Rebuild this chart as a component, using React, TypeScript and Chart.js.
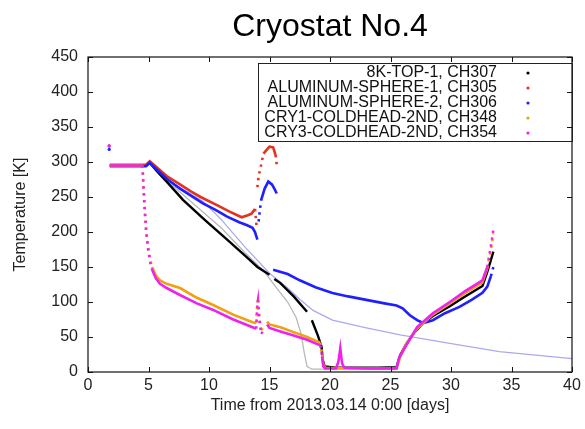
import React, { useEffect, useRef } from "react";
import { Chart, registerables } from "chart.js";

Chart.register(...registerables);

const TITLE = "Cryostat No.4";
const X_TITLE = "Time from 2013.03.14 0:00 [days]";
const Y_TITLE = "Temperature [K]";
const X_TICKS = [0, 5, 10, 15, 20, 25, 30, 35, 40];
const Y_TICKS = [0, 50, 100, 150, 200, 250, 300, 350, 400, 450];

const LEGEND_LABELS = [
  "8K-TOP-1, CH307",
  "ALUMINUM-SPHERE-1, CH305",
  "ALUMINUM-SPHERE-2, CH306",
  "CRY1-COLDHEAD-2ND, CH348",
  "CRY3-COLDHEAD-2ND, CH354",
];

// 8K-TOP-1, CH307
const BLACK_DAYS = [1.8, 4.8, 5.1, 5.7, 6.5, 7.85, 9.67, 11.5, 13, 14, 15, null, 15.4, 15.9, 17, 18.1, null, 18.5, 19, 19.3, 19.4, 19.55, 20.5, 22, 24, 25.5, 25.8, 26.3, 27, 27.7, 28.5, 29.9, 31, 32.6, 33, 33.3, 33.5];
const BLACK_TEMPS = [295, 295, 299, 287, 272, 246, 217, 189, 166, 150, 139, null, 133, 127, 108, 86, null, 74, 52, 36, 17, 8, 6, 6, 6, 7, 24, 40, 57, 70, 80, 94, 106, 123, 143, 160, 172];

// ALUMINUM-SPHERE-1, CH305
const RED_DAYS = [1.75, null, 1.8, 4.8, 5.1, 5.7, 6.5, 7.6, 8.5, 9.3, 10.7, 11.7, 12.7, 13.2, 13.5, 13.8, 13.95, null, 14.0, 14.1, 14.3, 14.5, 14.8, 15.0, 15.3, 15.5, 15.6];
const RED_TEMPS = [323, null, 296, 296, 301, 292, 280, 268, 258, 250, 238, 229, 221, 224, 226, 233, 205, null, 264, 280, 295, 312, 318, 322, 321, 310, 296];

// ALUMINUM-SPHERE-2, CH306
const BLUE_DAYS = [1.75, null, 1.8, 4.8, 5.1, 5.7, 6.5, 7.6, 8.5, 9.5, 10.5, 11.5, 12.5, 13.1, 13.6, 13.8, 14.0, null, 14.1, 14.3, 14.6, 14.9, 15.2, 15.4, 15.6, null, 15.3, 16.5, 17.5, 18.8, 20.2, 21.5, 23, 24.5, 25.5, 26, 26.6, 27.2, 27.7, 28.5, 29.5, 30.7, 31.7, 32.6, 33, 33.3, 33.5];
const BLUE_TEMPS = [318, null, 294, 294, 299, 289, 276, 262, 252, 241, 232, 222, 214, 210, 206, 200, 189, null, 215, 245, 262, 272, 268, 262, 255, null, 146, 140, 131, 121, 113, 108, 103, 98, 95, 91, 81, 74, 70, 74, 84, 93, 103, 113, 122, 137, 150];

// CRY1-COLDHEAD-2ND, CH348
const ORANGE_DAYS = [1.8, 4.5, 4.6, 4.7, 4.8, 4.95, 5.15, 5.3, 5.6, 5.95, 6.5, 7.6, 9, 10.3, 12, 13.6, 13.9, 14.0, 14.05, 14.15, 14.3, 14.45, null, 14.8, 15.0, 15.9, 17, 18.1, 19.2, 19.35, 19.45, 19.6, 22, 25.5, 25.8, 26.3, 27.2, 28.5, 29.9, 31.2, 32.6, 33, 33.3, 33.5];
const ORANGE_TEMPS = [295, 295, 262, 230, 205, 180, 160, 150, 138, 131, 126, 120, 106, 96, 82, 71, 70, 100, 106, 80, 62, 60, null, 72, 68, 64, 57, 50, 42, 25, 10, 6, 5, 5, 22, 40, 62, 82, 98, 113, 128, 148, 175, 198];

// CRY3-COLDHEAD-2ND, CH354
const MAGENTA_DAYS = [1.75, null, 1.8, 4.5, 4.6, 4.7, 4.8, 4.95, 5.15, 5.3, 5.6, 5.95, 6.5, 7.6, 9, 10.3, 12, 13.6, 13.9, 14.0, 14.05, 14.15, 14.3, 14.45, null, 14.8, 15.0, 15.9, 17, 18.1, 19.2, 19.35, 19.45, 19.6, 20.5, 20.7, 20.85, 21.0, 21.2, 23, 25.5, 25.7, 26.3, 27.2, 28.5, 29.9, 31.2, 32.6, 33, 33.3, 33.5];
const MAGENTA_TEMPS = [323, null, 295, 295, 258, 228, 202, 178, 156, 146, 134, 126, 120, 110, 98, 89, 75, 64, 62, 96, 102, 75, 57, 55, null, 68, 63, 58, 52, 46, 38, 22, 8, 5, 5, 15, 34, 12, 6, 5, 5, 20, 38, 64, 84, 100, 116, 131, 150, 180, 203];

// unlabelled thin traces
const LAVENDER_DAYS = [5.1, 7, 9.5, 11, 13, 15, 16.5, 17.5, 18.6, 20.2, 23, 25.8, 29.9, 34, 37, 40];
const LAVENDER_TEMPS = [298, 270, 244, 218, 178, 141, 120, 104, 88, 74, 63, 53, 41, 29, 24, 19];
const GRAY_DAYS = [5.1, 7, 9, 11, 13, 14.5, 15.5, 16.5, 17.2, 17.6, 17.9, 18.1, 18.5, 25.5];
const GRAY_TEMPS = [298, 266, 236, 206, 170, 145, 122, 100, 78, 55, 25, 8, 4, 4];

const COLORS = ["#000000", "#e3321e", "#1f1fff", "#f0a010", "#ee22ee"];
const FONT = "'Liberation Sans', Arial, Helvetica, sans-serif";

function pts(xs: (number | null)[], ys: (number | null)[]) {
  return xs.map((x, i) => ({ x: x as any, y: ys[i] as any }));
}

function isolatedRadius(r: number) {
  return (ctx: any) => {
    const d = ctx.dataset.data;
    const i = ctx.dataIndex;
    const prev = i > 0 ? d[i - 1] : null;
    const next = i < d.length - 1 ? d[i + 1] : null;
    const pn = !prev || prev.y == null;
    const nn = !next || next.y == null;
    return pn && nn ? r : 0;
  };
}

// fast changes sampled at a fixed rate show as separated dots
function fastDash(ctx: any) {
  const ds = ctx.chart.data.datasets[ctx.datasetIndex];
  const a = ds.data[ctx.p0DataIndex];
  const b = ds.data[ctx.p1DataIndex];
  if (!a || !b) return undefined;
  if (Math.min(a.y, b.y) < 20) return undefined;
  const dt = Math.abs(b.x - a.x);
  const len = Math.hypot(ctx.p1.x - ctx.p0.x, ctx.p1.y - ctx.p0.y);
  if (dt <= 0 || len / dt > 45) return [2.4, 4.5];
  return undefined;
}

const framePlugin = {
  id: "gnuframe",
  afterDatasetsDraw(chart: any) {
    const { ctx, chartArea: a, scales } = chart;
    const xs = scales.x;
    const ys = scales.y;
    ctx.save();
    ctx.strokeStyle = "#111";
    ctx.lineWidth = 1.2;
    ctx.strokeRect(a.left, a.top, a.right - a.left, a.bottom - a.top);
    const tl = 5;
    ctx.beginPath();
    X_TICKS.forEach((v) => {
      const px = Math.round(xs.getPixelForValue(v)) + 0.5;
      ctx.moveTo(px, a.bottom);
      ctx.lineTo(px, a.bottom - tl);
      ctx.moveTo(px, a.top);
      ctx.lineTo(px, a.top + tl);
    });
    Y_TICKS.forEach((v) => {
      const py = Math.round(ys.getPixelForValue(v)) + 0.5;
      ctx.moveTo(a.left, py);
      ctx.lineTo(a.left + tl, py);
      ctx.moveTo(a.right, py);
      ctx.lineTo(a.right - tl, py);
    });
    ctx.lineWidth = 1;
    ctx.stroke();

    // legend
    const boxL = 258, boxT = 63, boxB = 141;
    ctx.strokeStyle = "#222";
    ctx.lineWidth = 1;
    ctx.strokeRect(boxL + 0.5, boxT + 0.5, a.right - boxL, boxB - boxT);
    ctx.font = `16px ${FONT}`;
    ctx.textAlign = "right";
    ctx.textBaseline = "middle";
    LEGEND_LABELS.forEach((lab, i) => {
      const y = 73 + i * 15;
      ctx.fillStyle = "#111";
      ctx.fillText(lab, 497, y);
      ctx.fillStyle = COLORS[i];
      ctx.beginPath();
      ctx.arc(528, y, 1.6, 0, Math.PI * 2);
      ctx.fill();
    });

    // title
    ctx.font = `32px ${FONT}`;
    ctx.textAlign = "center";
    ctx.fillStyle = "#000";
    ctx.fillText(TITLE, (a.left + a.right) / 2, 27);
    ctx.restore();
  },
};

export default function App() {
  const ref = useRef<HTMLCanvasElement>(null);
  useEffect(() => {
    document.body.style.margin = "0";
    const canvas = ref.current!;
    const mk = (label: string, xs: any[], ys: any[], color: string, w: number, dash: boolean) => ({
      label,
      data: pts(xs, ys),
      borderColor: color,
      backgroundColor: color,
      borderWidth: w,
      showLine: true,
      spanGaps: false,
      pointRadius: isolatedRadius(1.6),
      pointBorderWidth: 0,
      tension: 0,
      segment: dash ? { borderDash: fastDash } : undefined,
    });
    const chart = new Chart(canvas, {
      type: "scatter",
      data: {
        datasets: [
          mk(LEGEND_LABELS[4], MAGENTA_DAYS, MAGENTA_TEMPS, COLORS[4], 2.6, true),
          mk(LEGEND_LABELS[3], ORANGE_DAYS, ORANGE_TEMPS, COLORS[3], 2.6, true),
          mk(LEGEND_LABELS[2], BLUE_DAYS, BLUE_TEMPS, COLORS[2], 2.6, true),
          mk(LEGEND_LABELS[1], RED_DAYS, RED_TEMPS, COLORS[1], 2.6, true),
          mk(LEGEND_LABELS[0], BLACK_DAYS, BLACK_TEMPS, COLORS[0], 2.4, true),
          mk("lavender", LAVENDER_DAYS, LAVENDER_TEMPS, "#aaaaee", 1.3, false),
          mk("gray", GRAY_DAYS, GRAY_TEMPS, "#b8b8b8", 1.3, false),
        ] as any,
      },
      options: {
        animation: false,
        responsive: false,
        maintainAspectRatio: false,
        layout: { padding: { left: 0, right: 13, top: 57, bottom: 0 } },
        plugins: {
          legend: { display: false },
          tooltip: { enabled: false },
          title: { display: false },
        },
        scales: {
          x: {
            type: "linear",
            min: 0,
            max: 40,
            grid: { display: false, drawTicks: false },
            border: { display: false },
            afterBuildTicks: (s: any) => {
              s.ticks = X_TICKS.map((v) => ({ value: v }));
            },
            afterFit: (s: any) => {
              s.height = 57;
            },
            ticks: {
              padding: 4,
              color: "#222",
              font: { family: FONT, size: 16 },
              maxRotation: 0,
            },
            title: {
              display: true,
              text: X_TITLE,
              color: "#222",
              font: { family: FONT, size: 16 },
              padding: { top: 0, bottom: 14 },
            },
          },
          y: {
            type: "linear",
            min: 0,
            max: 450,
            grid: { display: false, drawTicks: false },
            border: { display: false },
            afterBuildTicks: (s: any) => {
              s.ticks = Y_TICKS.map((v) => ({ value: v }));
            },
            afterFit: (s: any) => {
              s.width = 88;
            },
            ticks: {
              padding: 10,
              color: "#222",
              font: { family: FONT, size: 16 },
            },
            title: {
              display: true,
              text: Y_TITLE,
              color: "#222",
              font: { family: FONT, size: 16 },
              padding: { top: 11, bottom: 0 },
            },
          },
        },
      },
      plugins: [framePlugin],
    });
    return () => chart.destroy();
  }, []);
  return <canvas ref={ref} width={585} height={429} style={{ display: "block" }} />;
}
